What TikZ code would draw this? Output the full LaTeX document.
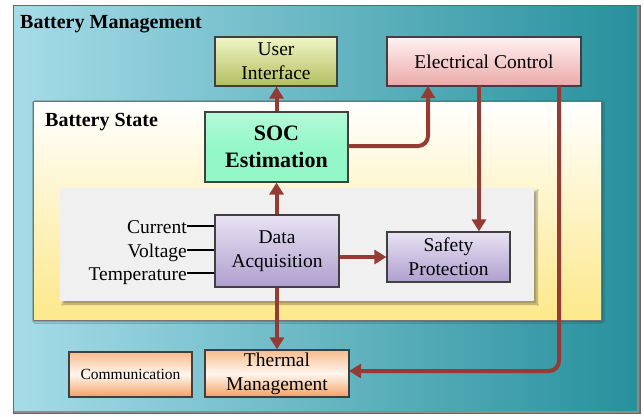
\documentclass[tikz,border=0pt]{standalone}
\usepackage{fontspec}
\setmainfont{Liberation Serif}
\usetikzlibrary{arrows.meta,shadows.blur,calc}
\definecolor{arrred}{HTML}{963B34}
\definecolor{frameL}{HTML}{A6DCE8}
\definecolor{frameR}{HTML}{26909C}
\definecolor{stateY}{HTML}{FDE88A}
\definecolor{uiTop}{HTML}{F0F5C6}
\definecolor{uiBot}{HTML}{B2BE60}
\definecolor{ecTop}{HTML}{FFF2F2}
\definecolor{ecBot}{HTML}{EBA8A8}
\definecolor{socC}{HTML}{94F7C8}
\definecolor{purTop}{HTML}{E9E2F3}
\definecolor{purBot}{HTML}{AE9FCE}
\definecolor{orTop}{HTML}{F8BC8C}
\definecolor{orMid}{HTML}{FFF6EE}
\definecolor{orBot}{HTML}{F2A062}
\tikzset{
  box/.style={draw=black!75, line width=1.2pt, align=center, inner sep=0pt,
    font=\fontsize{19.5}{24}\selectfont},
  uibox/.style={box, top color=uiTop, bottom color=uiBot},
  ecbox/.style={box, top color=ecTop, bottom color=ecBot},
  socbox/.style={box, top color=socC!70!white, bottom color=socC, middle color=socC,
    font=\bfseries\fontsize{22}{27}\selectfont},
  purbox/.style={box, top color=purTop, bottom color=purBot},
  orbox/.style={box, top color=orTop, bottom color=orBot, middle color=orMid},
  arr/.style={draw=arrred, line width=4pt, rounded corners=10pt,
    -{Triangle[width=14pt,length=12pt]}},
  sig/.style={draw=black, line width=2.2pt},
  lbl/.style={font=\fontsize{19.5}{24}\selectfont, inner sep=0pt, anchor=east,
    text height=14pt, text depth=0pt},
  ttl/.style={font=\bfseries\fontsize{20}{24}\selectfont, inner sep=0pt, anchor=base west}
}
\begin{document}
\begin{tikzpicture}[x=1pt,y=-1pt]
\useasboundingbox (0,0) rectangle (644,416);
\fill[white] (0,0) rectangle (644,416);
% outer frame
\shade[left color=frameL, right color=frameR, draw=black!60, line width=1pt]
  (13,5) rectangle (640,413);
\draw[black!45, line width=2pt] (638,6) -- (638,412) -- (14,412);
\node[ttl] (tBM) at (20,28) {Battery Management};
% battery state frame
\shade[top color=white, bottom color=stateY, draw=black!55, line width=1pt,
  blur shadow={shadow xshift=1.5pt, shadow yshift=-1.5pt, shadow blur steps=4, shadow opacity=40}]
  (33,101) rectangle (601,320);
\node[ttl] (tBS) at (45,126) {Battery State};
% inner grey panel
\fill[black!6, blur shadow={shadow xshift=3pt, shadow yshift=-3pt, shadow blur steps=6, shadow opacity=35}]
  (60,188) rectangle (534,301);
% boxes
\node[uibox, minimum width=122pt, minimum height=49pt] (UI) at (276,61.5) {User\\Interface};
\node[ecbox, minimum width=194pt, minimum height=49pt] (EC) at (484,61.5) {Electrical Control};
\node[socbox, minimum width=143pt, minimum height=70pt] (SOC) at (276.5,147) {SOC\\Estimation};
\node[purbox, minimum width=124pt, minimum height=72pt] (DA) at (277,251) {Data\\Acquisition};
\node[purbox, minimum width=123pt, minimum height=50pt] (SP) at (448.5,257) {Safety\\Protection};
\node[orbox, minimum width=123pt, minimum height=45pt, font=\fontsize{15.5}{20}\selectfont] (CM) at (130.5,374.5) {Communication};
\node[orbox, minimum width=144pt, minimum height=47pt] (TM) at (277,373.5) {Thermal\\Management};
% signal labels
\node[lbl] (cur) at (187,226) {Current};
\node[lbl] (vol) at (187,250) {Voltage};
\node[lbl] (tem) at (187,273) {Temperature};
\draw[sig] (cur.east) -- (cur.east -| DA.west);
\draw[sig] (vol.east) -- (vol.east -| DA.west);
\draw[sig] (tem.east) -- (tem.east -| DA.west);
% connector anchors
\coordinate (ecA) at (428,86);
\coordinate (ecB) at (479,86);
\coordinate (ecC) at (559,86);
\coordinate (tmE) at (349,371);
% arrows
\draw[arr] (SOC.north) -- (SOC.north |- UI.south);
\draw[arr] (DA.north -| SOC.north) -- (SOC.south);
\draw[arr] (SOC.east |- 0,146) -| (ecA);
\draw[arr] (ecB) -- (ecB |- SP.north);
\draw[arr] (ecC) |- (tmE);
\draw[arr] (DA.east |- SP.west) -- (SP.west);
\draw[arr] (DA.south -| TM.north) -- (TM.north);
\end{tikzpicture}
\end{document}
